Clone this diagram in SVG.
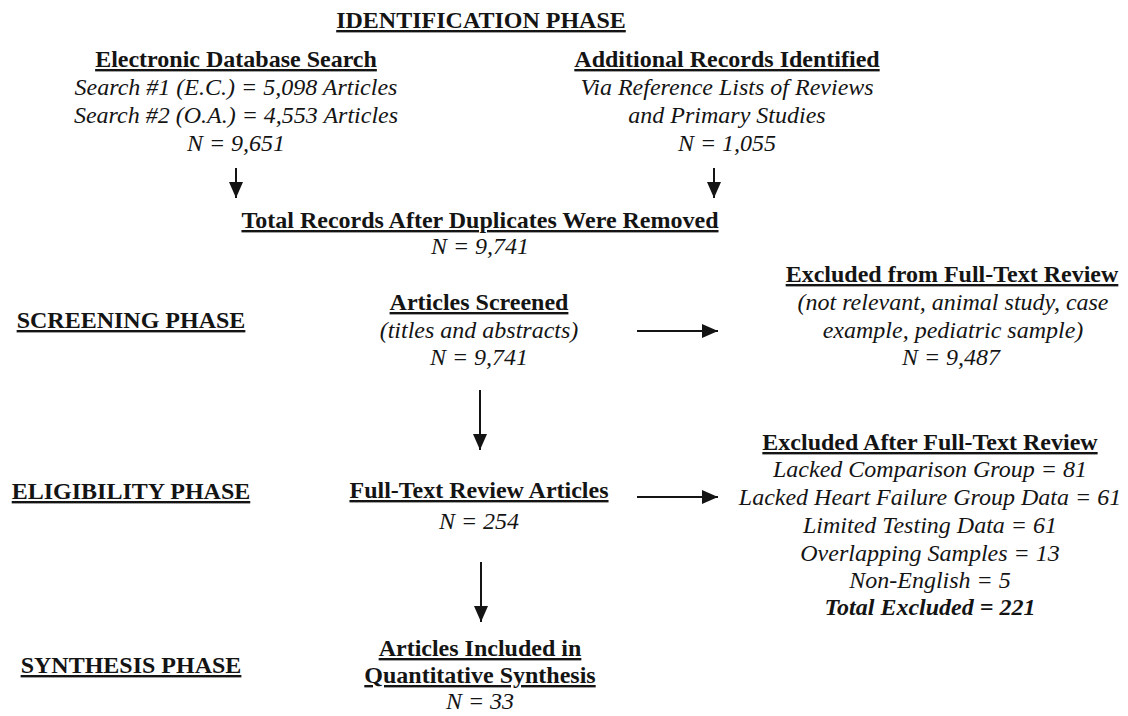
<svg xmlns="http://www.w3.org/2000/svg" width="1128" height="716" viewBox="0 0 1128 716">
<style>
text{font-family:"Liberation Serif","Times New Roman",serif;font-size:24px;fill:#141414;text-anchor:middle}
.h{font-weight:bold;text-decoration:underline;text-decoration-thickness:2px;text-underline-offset:3px}
.i{font-style:italic}
.bi{font-weight:bold;font-style:italic}
.c{stroke:#141414;stroke-width:2;fill:none}
</style>
<defs>
<marker id="ah" markerUnits="userSpaceOnUse" markerWidth="17" markerHeight="15" refX="16" refY="7" orient="auto">
<path d="M0,0 L16,7 L0,14 z" fill="#141414"/>
</marker>
</defs>
<rect width="1128" height="716" fill="#fff"/>
<g id="identification-phase"><text class="h" x="481" y="28">IDENTIFICATION PHASE</text></g>
<g id="electronic-search">
<text class="h" x="236" y="67">Electronic Database Search</text>
<text class="i" x="236" y="95">Search #1 (E.C.) = 5,098 Articles</text>
<text class="i" x="236" y="123">Search #2 (O.A.) = 4,553 Articles</text>
<text class="i" x="236" y="151">N = 9,651</text>
</g>
<g id="additional-records">
<text class="h" x="727" y="67">Additional Records Identified</text>
<text class="i" x="727" y="95">Via Reference Lists of Reviews</text>
<text class="i" x="727" y="123">and Primary Studies</text>
<text class="i" x="727" y="151">N = 1,055</text>
</g>
<g id="total-records">
<text class="h" x="480" y="228">Total Records After Duplicates Were Removed</text>
<text class="i" x="480" y="254">N = 9,741</text>
</g>
<g id="screening-phase"><text class="h" x="131" y="328">SCREENING PHASE</text></g>
<g id="articles-screened">
<text class="h" x="479" y="310">Articles Screened</text>
<text class="i" x="479" y="338">(titles and abstracts)</text>
<text class="i" x="479" y="365">N = 9,741</text>
</g>
<g id="excluded-screening">
<text class="h" x="952" y="282">Excluded from Full-Text Review</text>
<text class="i" x="953" y="310">(not relevant, animal study, case</text>
<text class="i" x="953" y="338">example, pediatric sample)</text>
<text class="i" x="951" y="365">N = 9,487</text>
</g>
<g id="eligibility-phase"><text class="h" x="131" y="499">ELIGIBILITY PHASE</text></g>
<g id="full-text-review">
<text class="h" x="479" y="498">Full-Text Review Articles</text>
<text class="i" x="479" y="529">N = 254</text>
</g>
<g id="excluded-full-text">
<text class="h" x="930" y="450">Excluded After Full-Text Review</text>
<text class="i" x="930" y="477">Lacked Comparison Group = 81</text>
<text class="i" x="930" y="505">Lacked Heart Failure Group Data = 61</text>
<text class="i" x="930" y="533">Limited Testing Data = 61</text>
<text class="i" x="930" y="561">Overlapping Samples = 13</text>
<text class="i" x="930" y="588">Non-English = 5</text>
<text class="bi" x="930" y="615">Total Excluded = 221</text>
</g>
<g id="synthesis-phase"><text class="h" x="131" y="673">SYNTHESIS PHASE</text></g>
<g id="included">
<text class="h" x="480" y="656">Articles Included in</text>
<text class="h" x="480" y="683">Quantitative Synthesis</text>
<text class="i" x="480" y="709">N = 33</text>
</g>
<g id="connectors">
<line class="c" x1="236" y1="168" x2="236" y2="198" marker-end="url(#ah)"/>
<line class="c" x1="714" y1="168" x2="714" y2="198" marker-end="url(#ah)"/>
<line class="c" x1="480" y1="390" x2="480" y2="450" marker-end="url(#ah)"/>
<line class="c" x1="637" y1="331" x2="718" y2="331" marker-end="url(#ah)"/>
<line class="c" x1="637" y1="497" x2="718" y2="497" marker-end="url(#ah)"/>
<line class="c" x1="481" y1="562" x2="481" y2="622" marker-end="url(#ah)"/>
</g>
</svg>
